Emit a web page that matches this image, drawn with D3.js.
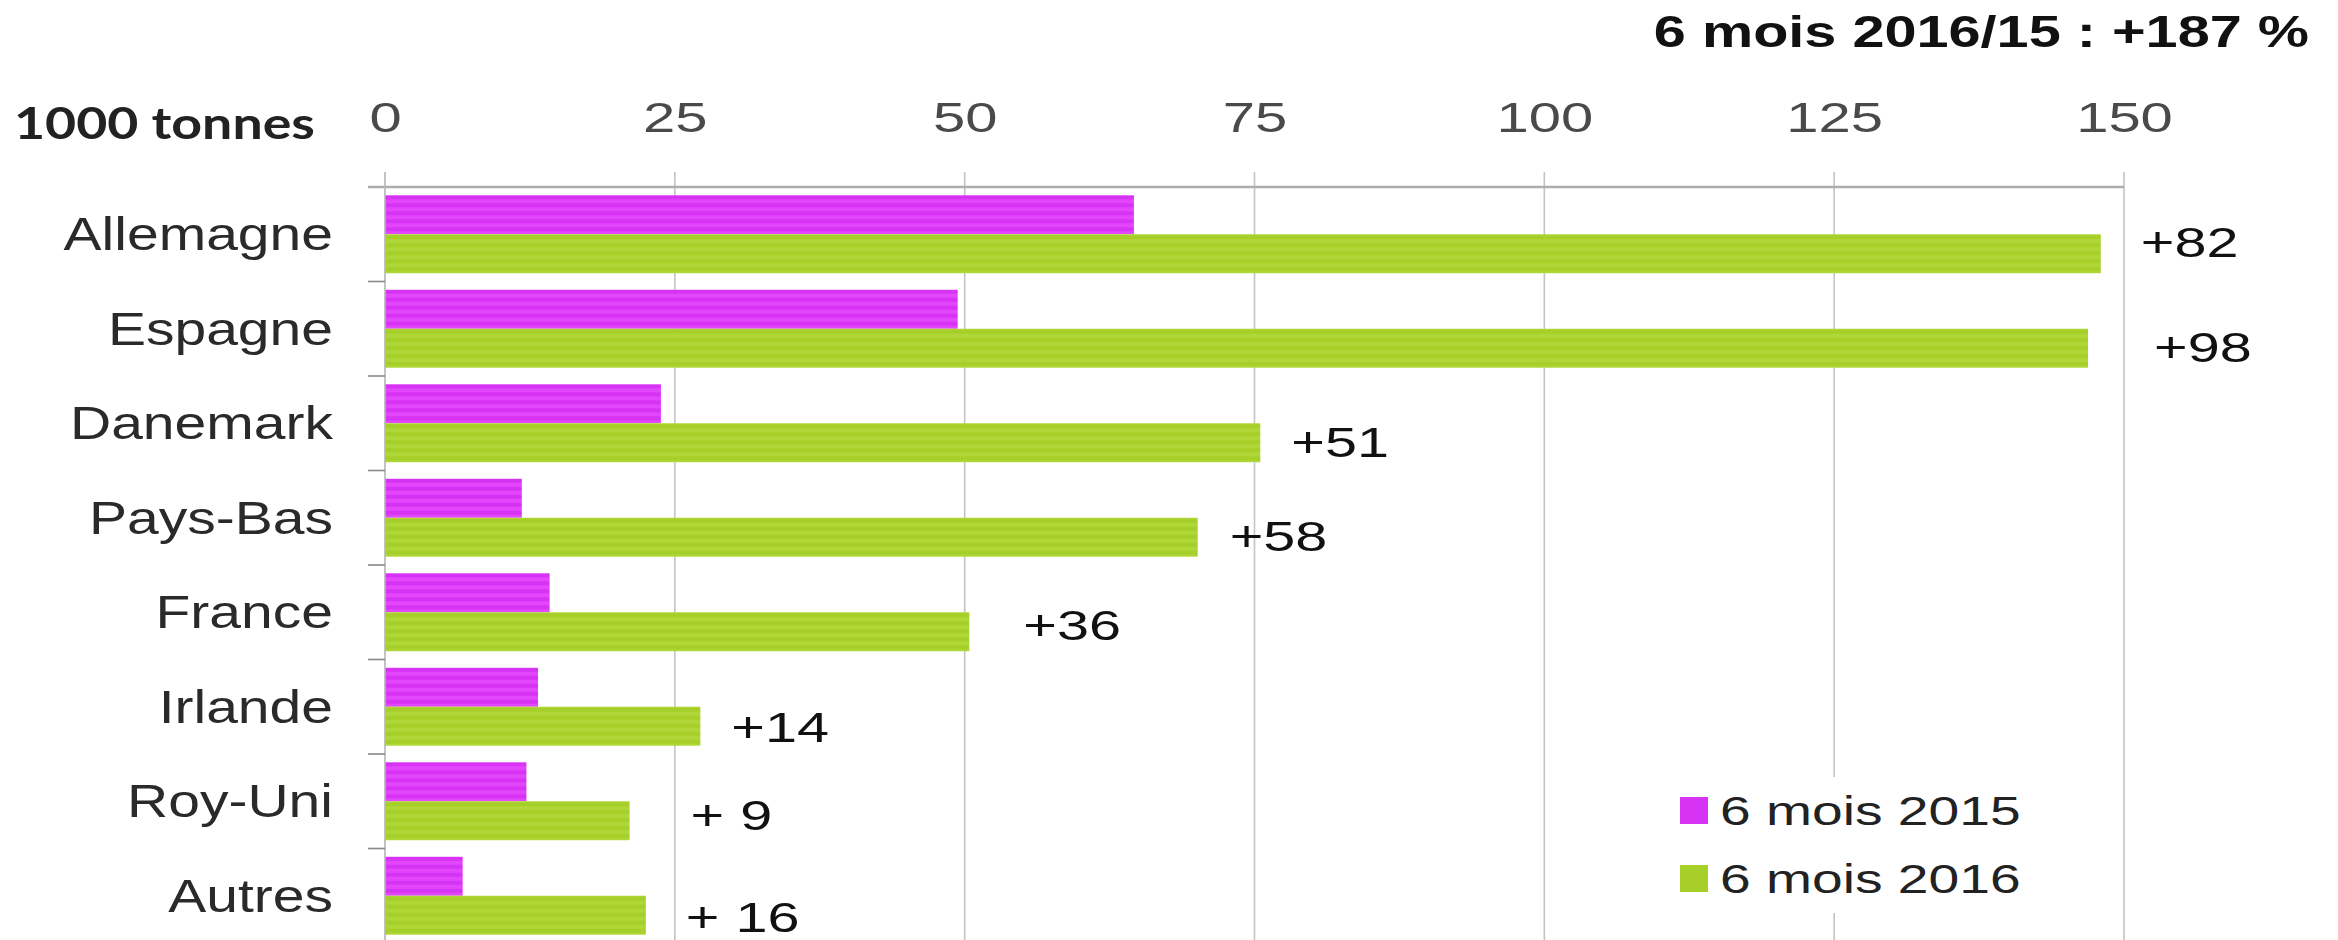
<!DOCTYPE html>
<html><head><meta charset="utf-8">
<script src="https://cdn.jsdelivr.net/npm/d3@7"></script>
<style>body{margin:0;background:#fff;overflow:hidden;} svg{display:block;}</style>
</head><body><svg id="c" width="2338" height="940"></svg>
<script>
// ---- data ----
const categories = ["Allemagne","Espagne","Danemark","Pays-Bas","France","Irlande","Roy-Uni","Autres"];
const seriesNames = ["6 mois 2015","6 mois 2016"];
const values2015 = [64.6, 49.4, 23.8, 11.8, 14.2, 13.2, 12.2, 6.7];
const values2016 = [148.0, 146.9, 75.5, 70.1, 50.4, 27.2, 21.1, 22.5];
const changeLabels = ["+82","+98","+51","+58","+36","+14","+ 9","+ 16"];
const xTicks = [0,25,50,75,100,125,150];
const unitLabel = "1000 tonnes";
const titleText = "6 mois 2016/15 : +187 %";

// ---- layout / style ----
const plotLeft = 385, plotRight = 2124, plotTop = 187, plotBottom = 943;
const labelOffsets = [[40,8],[66,18],[31,19],[32,18],[54,13],[31,20],[61,14],[40,21]];
const colors = {c2015:"#d733f4", c2015b:"#e246fd", c2016:"#a7cf2a", c2016b:"#b0d738"};

const svg = d3.select("#c");
const defs = svg.append("defs");
function stripes(id, a, b){
  const p = defs.append("pattern").attr("id", id).attr("patternUnits","userSpaceOnUse")
    .attr("width", 20).attr("height", 8);
  p.append("rect").attr("width",20).attr("height",8).attr("fill",a);
  p.append("rect").attr("y",4).attr("width",20).attr("height",4).attr("fill",b);
}
stripes("p2015", colors.c2015, colors.c2015b);
stripes("p2016", colors.c2016, colors.c2016b);

const x = d3.scaleLinear().domain([0,150]).range([plotLeft, plotRight]);
const y = d3.scaleBand().domain(categories).range([plotTop, plotBottom]).paddingInner(0.175).paddingOuter(0.0875);
const ySub = d3.scaleBand().domain(seriesNames).range([0, y.bandwidth()]);
const step = y.step();

function txt(g, s, tx, ty, o){
  return g.append("text")
    .attr("transform", `translate(${tx},${ty}) scale(${o.sx||1},1)`)
    .attr("text-anchor", o.anchor || "start")
    .attr("font-family", o.family || "'Liberation Sans', Arial, sans-serif")
    .attr("font-size", o.size)
    .attr("font-weight", o.weight || 400)
    .attr("fill", o.fill || "#222")
    .text(s);
}

// gridlines
svg.append("g").selectAll("line").data(xTicks.slice(1)).join("line")
  .attr("x1", d => x(d)).attr("x2", d => x(d))
  .attr("y1", plotTop - 15).attr("y2", plotBottom)
  .attr("stroke", "#c4c4c4").attr("stroke-width", 1.6);

// legend box (covers gridline)
const lg = svg.append("g");
lg.append("rect").attr("x",1654).attr("y",777).attr("width",380).attr("height",136).attr("fill","#fff");

// bars
const data = categories.map((c,i) => ({cat:c, v:[values2015[i], values2016[i]]}));
const groups = svg.append("g").selectAll("g").data(data).join("g")
  .attr("transform", d => `translate(0,${y(d.cat)})`);
groups.selectAll("rect").data(d => d.v.map((v,k) => ({k, v}))).join("rect")
  .attr("x", x(0))
  .attr("y", d => ySub(seriesNames[d.k]))
  .attr("width", d => x(d.v) - x(0))
  .attr("height", ySub.bandwidth())
  .attr("fill", d => d.k === 0 ? "url(#p2015)" : "url(#p2016)");

// axes lines
svg.append("line").attr("x1", plotLeft - 17).attr("x2", plotRight).attr("y1", plotTop).attr("y2", plotTop)
  .attr("stroke", "#adadad").attr("stroke-width", 2.5);
svg.append("line").attr("x1", plotLeft).attr("x2", plotLeft).attr("y1", plotTop - 15).attr("y2", plotBottom)
  .attr("stroke", "#b5b5b5").attr("stroke-width", 1.6);
svg.append("g").selectAll("line").data(categories.slice(1)).join("line")
  .attr("x1", plotLeft - 17).attr("x2", plotLeft)
  .attr("y1", d => y(d) - step * 0.0875).attr("y2", d => y(d) - step * 0.0875)
  .attr("stroke", "#888").attr("stroke-width", 1.6);

// top axis tick labels
const ax = svg.append("g").attr("transform", `translate(0,${plotTop})`)
  .call(d3.axisTop(x).tickValues(xTicks).tickSize(0).tickPadding(55).tickFormat(d3.format("d")));
ax.select(".domain").remove();
ax.selectAll("text")
  .attr("font-family", "'Liberation Sans', Arial, sans-serif")
  .attr("font-size", 42).attr("fill", "#4a4a4a")
  .attr("transform", "scale(1.38,1)");

// category labels
categories.forEach(c => {
  txt(svg, c, 333, y(c) + y.bandwidth()/2 + 16, {anchor:"end", size:46, sx:1.24, fill:"#2a2a2a"});
});

// change labels
categories.forEach((c,i) => {
  const [dx, dy] = labelOffsets[i];
  txt(svg, changeLabels[i], x(values2016[i]) + dx,
      y(c) + y.bandwidth()/2 + dy + 15, {size:42, sx:1.37, fill:"#111"});
});

// unit label & title
txt(svg, unitLabel, 14, 139, {size:44, sx:1.22, weight:700, family:"Lato, 'Open Sans', sans-serif", fill:"#222"});
txt(svg, titleText, 2309, 47, {anchor:"end", size:44, sx:1.31, weight:700, fill:"#111"});

// legend
const legendColors = [colors.c2015, colors.c2016];
seriesNames.forEach((s,i) => {
  lg.append("rect").attr("x",1680).attr("y",797 + i*68).attr("width",28).attr("height",27).attr("fill",legendColors[i]);
  txt(lg, s, 1720, 825 + i*68, {size:40, sx:1.38, fill:"#222"});
});
</script></body></html>
